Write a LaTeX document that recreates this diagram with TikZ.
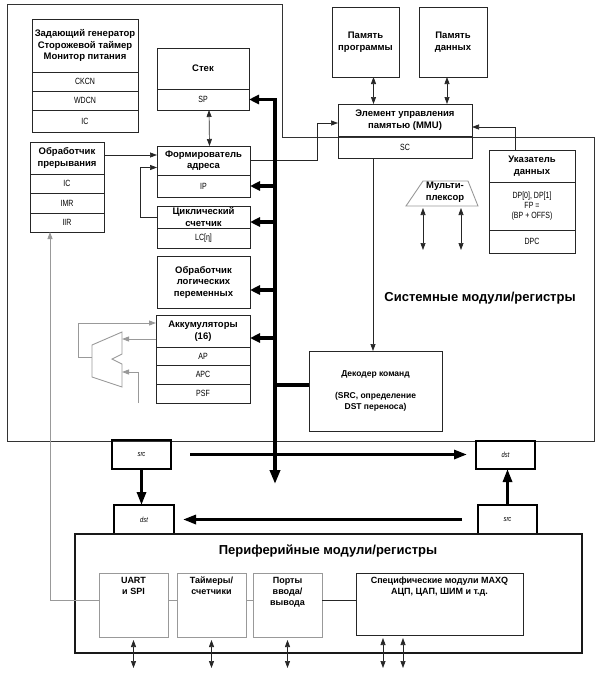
\documentclass[tikz,border=0pt]{standalone}
\usepackage{fontspec}
\setmainfont{Liberation Sans}
\newfontfamily\narrowfont[FakeStretch=0.78]{Liberation Sans}
\usetikzlibrary{positioning,arrows.meta,calc}

\begin{document}
\begin{tikzpicture}[
  x=1pt, y=-1pt,
  unit/.style={rectangle, draw=black!85, line width=0.9pt, outer sep=0pt,
    anchor=north west, inner sep=1pt, align=center,
    font=\bfseries\fontsize{9.5}{11.5}\selectfont},
  reg/.style={rectangle, draw=black!85, line width=0.9pt, outer sep=0pt,
    anchor=north west, inner sep=0pt, align=center,
    font=\narrowfont\fontsize{9}{10}\selectfont},
  subunit/.style={unit, draw=black!40, line width=1pt, minimum width=69pt, minimum height=64pt},
  inlabel/.style={anchor=north, align=center, inner sep=4pt,
    font=\bfseries\fontsize{9}{11}\selectfont},
  tag/.style={rectangle, draw, line width=1.1pt, outer sep=0pt, anchor=north west,
    minimum width=59pt, minimum height=29pt,
    font=\narrowfont\itshape\fontsize{7.5}{8}\selectfont},
  link/.style={draw=black!85, line width=0.7pt},
  glink/.style={draw=black!40, line width=0.9pt},
  tip/.style={-{Triangle[length=7pt,width=5pt]}},
  both/.style={{Triangle[length=7pt,width=5pt]}-{Triangle[length=7pt,width=5pt]}},
  busline/.style={line width=3.5pt},
  frombus/.style={busline, {Triangle[length=10pt,width=9pt]}-},
  move/.style={line width=3pt, -{Triangle[length=13pt,width=9pt]}}
]
  \useasboundingbox (0,0) rectangle (600,677);

  % system modules
  \draw[draw=black!80, line width=1pt] (7,5) -- (282,5) -- (282,137) -- (594,137)
    -- (594,441) -- (7,441) -- cycle;
  \node (sysname) at (480,298) [font=\bfseries\fontsize{13}{15}\selectfont] {Системные модули/регистры};

  \node (osc) [unit, minimum width=106pt, minimum height=53pt] at (32,19)
    {Задающий генератор\\Сторожевой таймер\\Монитор питания};
  \node (ckcn) [reg, minimum width=106pt, minimum height=19pt, below=0pt of osc] {CKCN};
  \node (wdcn) [reg, minimum width=106pt, minimum height=19pt, below=0pt of ckcn] {WDCN};
  \node (oscic) [reg, minimum width=106pt, minimum height=22pt, below=0pt of wdcn] {IC};

  \node (irq) [unit, minimum width=74pt, minimum height=32pt] at (30,142) {Обработчик\\прерывания};
  \node (irqic) [reg, minimum width=74pt, minimum height=19pt, below=0pt of irq] {IC};
  \node (imr) [reg, minimum width=74pt, minimum height=20pt, below=0pt of irqic] {IMR};
  \node (iir) [reg, minimum width=74pt, minimum height=19pt, below=0pt of imr] {IIR};

  \node (stack) [unit, minimum width=92pt, minimum height=41pt] at (157,48) {Стек};
  \node (sp) [reg, minimum width=92pt, minimum height=21pt, below=0pt of stack] {SP};

  \node (agen) [unit, minimum width=93pt, minimum height=29pt] at (157,146) {Формирователь\\адреса};
  \node (ip) [reg, minimum width=93pt, minimum height=22pt, below=0pt of agen] {IP};

  \node (loop) [unit, minimum width=93pt, minimum height=22pt, inner sep=0pt] at (157,206) {Циклический\\счетчик};
  \node (lc) [reg, minimum width=93pt, minimum height=20pt, below=0pt of loop] {LC[η]};

  \node (bitproc) [unit, minimum width=93pt, minimum height=52pt] at (157,256)
    {Обработчик\\логических\\переменных};

  \node (accum) [unit, minimum width=94pt, minimum height=32pt] at (156,315) {Аккумуляторы\\(16)};
  \node (ap) [reg, minimum width=94pt, minimum height=18pt, below=0pt of accum] {AP};
  \node (apc) [reg, minimum width=94pt, minimum height=19pt, below=0pt of ap] {APC};
  \node (psf) [reg, minimum width=94pt, minimum height=19pt, below=0pt of apc] {PSF};

  \node (pmem) [unit, minimum width=67pt, minimum height=70pt] at (332,7) {Память\\программы};
  \node (dmem) [unit, minimum width=68pt, minimum height=70pt] at (419,7) {Память\\данных};

  \node (mmu) [unit, minimum width=134pt, minimum height=32pt] at (338,104)
    {Элемент управления\\памятью (MMU)};
  \node (sc) [reg, minimum width=134pt, minimum height=22pt, below=0pt of mmu] {SC};

  \node (dptr) [unit, minimum width=86pt, minimum height=32pt] at (489,150) {Указатель\\данных};
  \node (dp) [reg, minimum width=86pt, minimum height=48pt, below=0pt of dptr]
    {DP[0], DP[1]\\FP =\\(BP + OFFS)};
  \node (dpc) [reg, minimum width=86pt, minimum height=23pt, below=0pt of dp] {DPC};

  \node (dec) [unit, minimum width=133pt, minimum height=80pt,
    font=\bfseries\fontsize{8.5}{11}\selectfont] at (309,351)
    {Декодер команд\\[11pt](SRC, определение\\DST переноса)};

  % multiplexer
  \draw[glink] (423,181) -- (468,181) -- (478,206) -- (406,206) -- cycle;
  \node (mux) at (445,192) [align=center, inner sep=0pt,
    font=\bfseries\fontsize{9.5}{11.5}\selectfont] {Мульти-\\плексор};
  \coordinate (muxl) at (423,208);
  \coordinate (muxr) at (461,208);
  \draw[link,both] (muxl) -- ++(0,42);
  \draw[link,both] (muxr) -- ++(0,42);

  % ALU of the accumulators
  \draw[glink] (122,332) -- (92,345) -- (92,377) -- (122,387) -- (122,364)
    -- (112,359) -- (122,354) -- cycle;
  \coordinate (aluout) at (92,357);
  \coordinate (aluina) at (122,339);
  \coordinate (aluinb) at (122,372);
  \draw[glink,tip] (aluout) -- ++(-14,0) |- ([yshift=8pt]accum.west);
  \draw[glink,tip] ([yshift=-8pt]accum.west) -- (aluina);
  \draw[glink,tip] (psf.south west) ++(-18,0) |- (aluinb);

  % internal links
  \draw[link,both] ([xshift=6pt]sp.south) -- ([xshift=6pt]agen.north);
  \draw[link,tip] ([yshift=3pt]irq.east) -- ++(53,0);
  \draw[link,tip] (loop.west) -- ++(-17,0) |- ([yshift=-7pt]agen.west);
  \draw[link,tip] (agen.east) -- ++(67,0) |- ([yshift=-3pt]mmu.west);
  \draw[link,tip] ([xshift=-17pt]dptr.north) |- ([yshift=-7pt]mmu.east);
  \draw[link,both] ([xshift=8pt]pmem.south) -- ++(0,27);
  \draw[link,both] ([xshift=-6pt]dmem.south) -- ++(0,27);
  \draw[link,tip] ([xshift=-32pt]sc.south) -- ++(0,193);

  % bus
  \coordinate (busend) at (275,484);
  \draw[busline, {Triangle[length=14pt,width=10pt]}-{Triangle[length=10pt,width=9pt]}]
    (busend) |- (sp.east);
  \draw[frombus] (ip.east) -- ++(25,0);
  \draw[frombus] ([yshift=-5pt]loop.east) -- ++(25,0);
  \draw[frombus] ([yshift=-8pt]bitproc.east) -- ++(25,0);
  \draw[frombus] ([yshift=-7pt]accum.east) -- ++(25,0);
  \draw[busline] ([yshift=6pt]dec.west) -- ++(-34,0);

  % transfer
  \node (srca) [tag] at (112,440) {src};
  \node (dstb) [tag, minimum height=28pt] at (476,441) {dst};
  \node (dsta) [tag, minimum width=60pt] at (114,505) {dst};
  \node (srcb) [tag] at (478,505) {src};
  \draw[move] (srca.south) -- (srca.south |- dsta.north);
  \draw[move] (srcb.north) -- (srcb.north |- dstb.south);
  \draw[move] (srca.east) ++(19,0) -- ++(277,0);
  \draw[move] (srcb.west) ++(-16,0) -- ++(-279,0);

  % peripheral modules
  \node (per) [unit, draw=black!90, line width=1.1pt, minimum width=507pt,
    minimum height=119pt] at (75,534) {};
  \node (pername) at (328,551) [font=\bfseries\fontsize{13}{15}\selectfont] {Периферийные модули/регистры};

  \node (uart) [subunit, label={[inlabel]north:{UART\\и SPI}}] at (99,573) {};
  \node (tmr) [subunit, label={[inlabel]north:{Таймеры/\\счетчики}}] at (177,573) {};
  \node (port) [subunit, label={[inlabel]north:{Порты\\ввода/\\вывода}}] at (253,573) {};
  \node (spec) [unit, minimum width=167pt, minimum height=62pt,
    label={[inlabel]north:{Специфические модули MAXQ\\АЦП, ЦАП, ШИМ и т.д.}}] at (356,573) {};

  \draw[glink] ([yshift=5pt]uart.east) -- ([yshift=5pt]tmr.west);
  \draw[glink] ([yshift=5pt]tmr.east) -- ([yshift=5pt]port.west);
  \draw[link] ([yshift=5pt]port.east) -- ([yshift=5pt]port.east -| spec.west);
  \draw[glink,tip] ([yshift=5pt]uart.west) -| ([xshift=-17pt]iir.south);

  \draw[link,both] ([yshift=-3pt]uart.south) -- ++(0,28);
  \draw[link,both] ([yshift=-3pt]tmr.south) -- ++(0,28);
  \draw[link,both] ([yshift=-3pt]port.south) -- ++(0,28);
  \draw[link,both] ([xshift=27pt,yshift=-3pt]spec.south west) -- ++(0,30);
  \draw[link,both] ([xshift=47pt,yshift=-3pt]spec.south west) -- ++(0,30);
\end{tikzpicture}
\end{document}
